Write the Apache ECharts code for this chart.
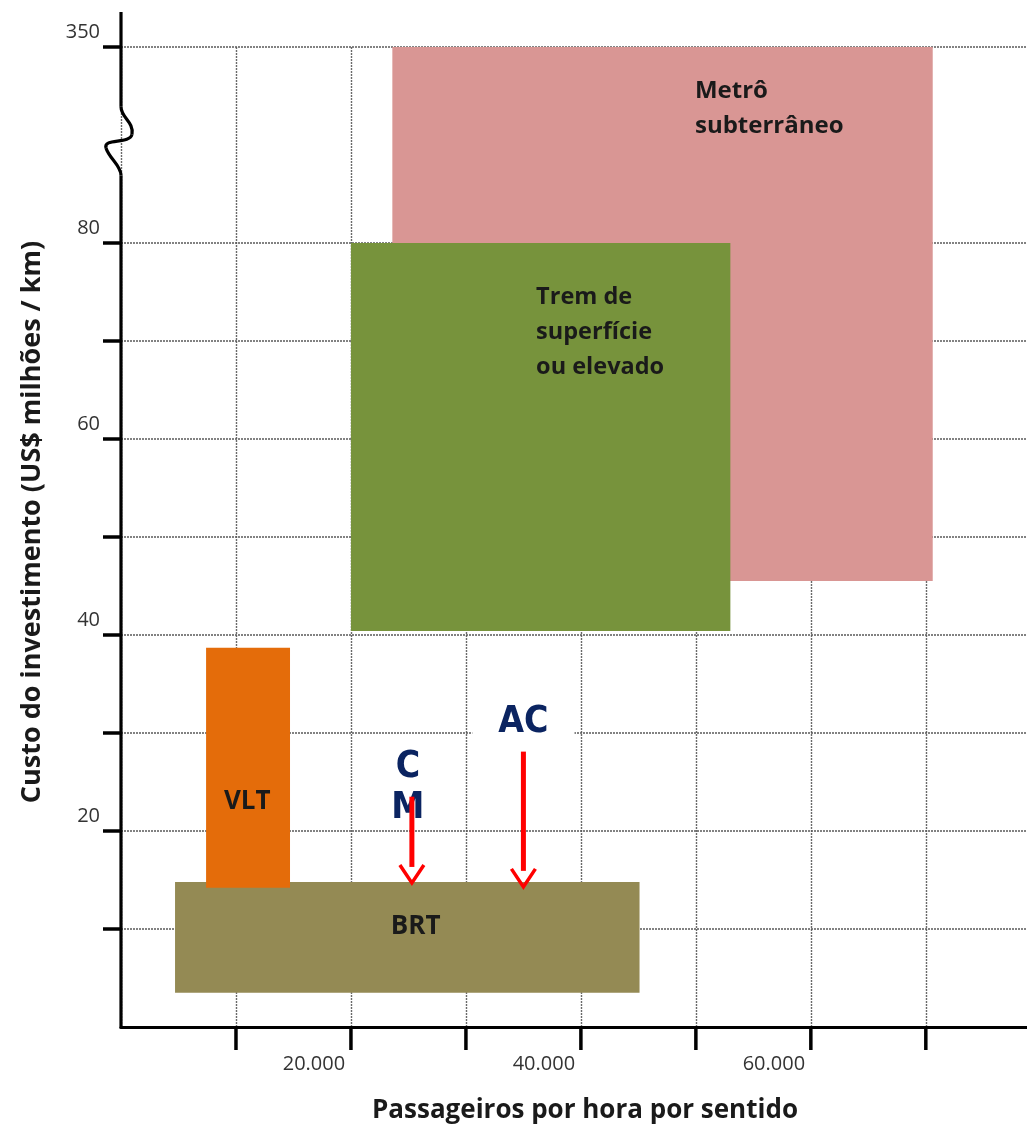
<!DOCTYPE html>
<html><head><meta charset="utf-8">
<script src="https://cdn.jsdelivr.net/npm/echarts@6/dist/echarts.min.js"></script>
<style>html,body{margin:0;padding:0;background:#fff}#chart{width:1027px;height:1131px}</style>
</head><body><div id="chart"></div>
<script>
// ---- data ----
const modeNames = ['Metrô\nsubterrâneo', 'Trem de\nsuperfície\nou elevado', 'BRT', 'VLT'];
const paxMin  = [23600, 20000, 4700, 7400];
const paxMax  = [70600, 53000, 45100, 14700];
const costMin = [45.5, 40.4, 3.5, 14.2];
const costMax = [350, 80, 14.8, 38.7];
const modeColors = ['#d99694', '#77933c', '#948a54', '#e46c0a'];

const arrowLabels = ['C\nM', 'AC'];
const arrowPax = [25300, 35000];
const arrowFromCost = [23.5, 28.1];
const arrowToCost = [14.7, 14.3];

const xTickValues = [10000, 20000, 30000, 40000, 50000, 60000, 70000];
const xLabelValues = [20000, 40000, 60000];
const xLabelTexts = ['20.000', '40.000', '60.000'];
const yGridCost = [10, 20, 30, 40, 50, 60, 70, 80, 350];
const yLabelCost = [20, 40, 60, 80, 350];
const yLabelTexts = ['20', '40', '60', '80', '350'];

const xTitle = 'Passageiros por hora por sentido';
const yTitle = 'Custo do investimento (US$ milhões / km)';

// ---- axis break (90 .. 340 collapsed) ----
const BREAK_FROM = 90, BREAK_TO = 340;
function toAxis(v) { return v > BREAK_FROM ? BREAK_FROM + (v - BREAK_TO) : v; }
const X_MAX = 78800;

// label placement styles (fractions of rectangle)
const labelStyle = [
  { align: 'left',   fx: 0.56,  fy: 0.05, va: 'top',    size: 24 },
  { align: 'left',   fx: 0.488, fy: 0.094, va: 'top',    size: 23.5 },
  { align: 'center', fx: 0.518, fy: 0.405, va: 'middle', size: 26 },
  { align: 'center', fx: 0.49,  fy: 0.64,  va: 'middle', size: 26 }
];

const FONT = "'Open Sans', 'DejaVu Sans', sans-serif";
const NARROW = "'Liberation Sans Narrow', 'DejaVu Sans Condensed', sans-serif";

const chart = echarts.init(document.getElementById('chart'), null, { renderer: 'canvas' });

const rectData = modeNames.map((n, i) => [paxMin[i], paxMax[i], toAxis(costMin[i]), toAxis(costMax[i]), i]);
const arrowData = arrowPax.map((x, i) => [x, arrowFromCost[i], arrowToCost[i], i]);

const option = {
  animation: false,
  backgroundColor: '#fff',
  grid: { left: 121, right: 0, top: 47, bottom: 104 },
  xAxis: {
    type: 'value', min: 0, max: X_MAX, interval: 10000,
    axisLine: { show: true, onZero: false, lineStyle: { color: '#000', width: 3 } },
    axisTick: { show: false },
    splitLine: { show: true, showMaxLine: false, lineStyle: { color: '#6a6a6a', width: 1.4, type: [2, 1] } },
    axisLabel: {
      show: true, margin: 27, color: '#333', fontFamily: FONT, fontSize: 20,
      padding: [0, 74, 0, 0], showMaxLabel: false,
      formatter: v => { const k = xLabelValues.indexOf(v); return k >= 0 ? xLabelTexts[k] : ''; }
    }
  },
  yAxis: {
    type: 'value', min: 0, max: 100, interval: 10,
    axisLine: { show: false }, axisTick: { show: false }, splitLine: { show: false },
    axisLabel: {
      show: true, margin: 21, color: '#333', fontFamily: FONT, fontSize: 20,
      verticalAlign: 'bottom', lineHeight: 20, padding: [0, 0, 5, 0],
      formatter: v => {
        const k = yLabelCost.findIndex(c => Math.abs(toAxis(c) - v) < 1e-6);
        return k >= 0 ? yLabelTexts[k] : '';
      }
    }
  },
  graphic: [
    { type: 'text', x: 32, y: 522, rotation: Math.PI / 2,
      style: { text: yTitle, font: 'bold 27px ' + FONT, fill: '#1a1a1a', textAlign: 'center', textVerticalAlign: 'middle' } },
    { type: 'text', x: 585, y: 1111,
      style: { text: xTitle, font: 'bold 26px ' + FONT, fill: '#1a1a1a', textAlign: 'center', textVerticalAlign: 'middle' } }
  ],
  series: [
    { // horizontal gridlines, ticks, y axis with break
      type: 'custom', z: 1, silent: true, clip: false,
      data: [[0, 0]],
      renderItem: (params, api) => {
        const ch = [];
        const xr = api.coord([X_MAX, 0])[0];
        yGridCost.forEach(c => {
          const p = api.coord([0, toAxis(c)]);
          ch.push({ type: 'line', shape: { x1: p[0], y1: p[1], x2: xr, y2: p[1] },
            style: { stroke: '#5a5a5a', lineWidth: 1.4, lineDash: [2, 1] } });
          ch.push({ type: 'line', shape: { x1: p[0] - 18, y1: p[1], x2: p[0], y2: p[1] },
            style: { stroke: '#000', lineWidth: 3.5 } });
        });
        xTickValues.forEach(v => {
          const p = api.coord([v, 0]);
          ch.push({ type: 'line', shape: { x1: p[0], y1: p[1], x2: p[0], y2: p[1] + 23 },
            style: { stroke: '#000', lineWidth: 3.5 } });
        });
        // y axis line with break squiggle
        const c0 = api.coord([0, 0]);
        const bBot = api.coord([0, 86.9]);
        const bTop = api.coord([0, 93.9]);
        const top = api.coord([0, 100])[1] - 35;
        const bx = c0[0];
        const st = { stroke: '#000', lineWidth: 3.2, fill: null };
        ch.push({ type: 'line', shape: { x1: bx, y1: c0[1] + 1.5, x2: bx, y2: bBot[1] }, style: st });
        ch.push({ type: 'line', shape: { x1: bx, y1: bTop[1], x2: bx, y2: top }, style: st });
        const ty = bTop[1], h = bBot[1] - bTop[1];
        ch.push({ type: 'bezierCurve', shape: { x1: bx, y1: ty, cpx1: bx, cpy1: ty + 0.16 * h, cpx2: bx + 13, cpy2: ty + 0.22 * h, x2: bx + 11, y2: ty + 0.4 * h }, style: st });
        ch.push({ type: 'bezierCurve', shape: { x1: bx + 11, y1: ty + 0.4 * h, cpx1: bx + 9, cpy1: ty + 0.55 * h, cpx2: bx - 18, cpy2: ty + 0.45 * h, x2: bx - 15, y2: ty + 0.6 * h }, style: st });
        ch.push({ type: 'bezierCurve', shape: { x1: bx - 15, y1: ty + 0.6 * h, cpx1: bx - 12, cpy1: ty + 0.75 * h, cpx2: bx, cpy2: ty + 0.85 * h, x2: bx, y2: ty + h }, style: st });
        return { type: 'group', children: ch };
      }
    },
    { // mode rectangles
      type: 'custom', z: 3, silent: true, clip: false,
      data: rectData,
      renderItem: (params, api) => {
        const i = api.value(4);
        const p1 = api.coord([api.value(0), api.value(3)]);
        const p2 = api.coord([api.value(1), api.value(2)]);
        const w = p2[0] - p1[0], h = p2[1] - p1[1];
        const ls = labelStyle[i];
        return { type: 'group', children: [
          { type: 'rect', shape: { x: p1[0], y: p1[1], width: w, height: h }, style: { fill: modeColors[i] } },
          { type: 'text', x: p1[0] + ls.fx * w, y: p1[1] + ls.fy * h,
            style: { text: modeNames[i], font: 'bold ' + ls.size + 'px ' + FONT, fill: '#1a1a1a',
              align: ls.align, verticalAlign: ls.va, lineHeight: 35 } }
        ] };
      }
    },
    { // annotation arrows
      type: 'custom', z: 5, silent: true, clip: false,
      data: arrowData,
      renderItem: (params, api) => {
        const i = api.value(3);
        const t = api.coord([api.value(0), api.value(1)]);
        const tip = api.coord([api.value(0), api.value(2)]);
        const boxed = arrowLabels[i].indexOf('\n') < 0;
        const ch = [];
        ch.push({ type: 'text', x: t[0] - (boxed ? 0 : 4), y: t[1] - 50 - (boxed ? 8 : 0),
          style: { text: arrowLabels[i], font: 'bold 37px ' + NARROW, fill: '#0b2461',
            align: 'center', verticalAlign: 'top', lineHeight: 41,
            backgroundColor: boxed ? '#fff' : null, padding: boxed ? [8, 26, 4, 26] : 0 } });
        ch.push({ type: 'line', shape: { x1: t[0], y1: t[1], x2: tip[0], y2: tip[1] - 16 },
          style: { stroke: '#ff0000', lineWidth: 5 } });
        ch.push({ type: 'polyline', shape: { points: [[tip[0] - 12, tip[1] - 18], [tip[0], tip[1]], [tip[0] + 12, tip[1] - 18]] },
          style: { stroke: '#ff0000', lineWidth: 3.5, fill: null } });
        return { type: 'group', children: ch };
      }
    }
  ]
};
chart.setOption(option);
</script>
</body></html>
